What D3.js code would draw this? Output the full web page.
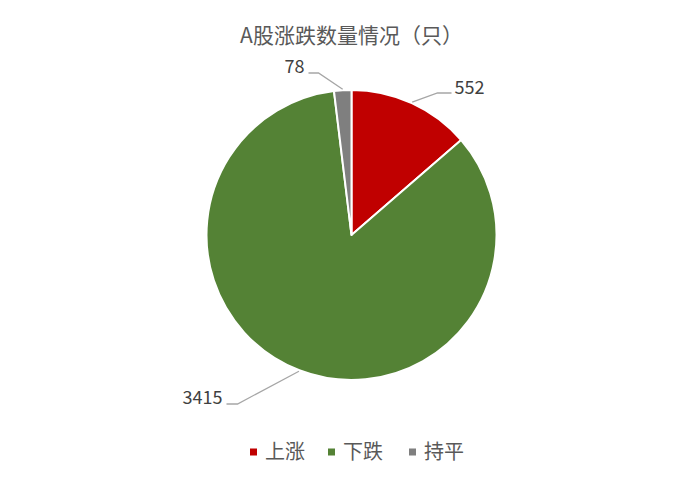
<!DOCTYPE html>
<html>
<head>
<meta charset="utf-8">
<script src="https://cdn.jsdelivr.net/npm/d3@7"></script>
<style>
  body { margin: 0; background: #fff; }
  text { font-family: "Noto Sans CJK SC", "Noto Sans", sans-serif; }
</style>
</head>
<body>
<svg id="chart"></svg>
<script>
// data
const categories = ['上涨', '下跌', '持平'];
const values = [552, 3415, 78];
const colors = ['#C00000', '#548235', '#7F7F7F'];

// label layout: elbow / end of leader line and text anchor (relative to pie centre)
const labelLayout = [
  { elbow: [86, -142], end: [100, -142], text: [103, -147], anchor: 'start' },
  { elbow: [-114, 169], end: [-125, 169], text: [-129, 163], anchor: 'end' },
  { elbow: [-33, -162], end: [-43, -162], text: [-47, -168], anchor: 'end' }
];

const width = 693, height = 477;
const cx = 351.5, cy = 235, radius = 145;

const svg = d3.select('#chart')
  .attr('width', width)
  .attr('height', height);

svg.append('text')
  .attr('x', cx)
  .attr('y', 43)
  .attr('text-anchor', 'middle')
  .attr('font-size', 21)
  .attr('fill', '#595959')
  .text('A股涨跌数量情况（只）');

const g = svg.append('g')
  .attr('transform', `translate(${cx}, ${cy})`);

const pie = d3.pie().value(d => d).sort(null);
const arcs = pie(values);

const arc = d3.arc().innerRadius(0).outerRadius(radius);

g.selectAll('.slice')
  .data(arcs)
  .enter()
  .append('path')
  .attr('class', 'slice')
  .attr('d', arc)
  .attr('fill', (d, i) => colors[i])
  .attr('stroke', '#fff')
  .attr('stroke-width', 2)
  .attr('stroke-linejoin', 'round');

// leader lines
g.selectAll('.leader')
  .data(arcs)
  .enter()
  .append('polyline')
  .attr('class', 'leader')
  .attr('fill', 'none')
  .attr('stroke', '#A6A6A6')
  .attr('stroke-width', 1.3)
  .attr('points', (d, i) => {
    const a = (d.startAngle + d.endAngle) / 2;
    const p0 = [Math.sin(a) * (radius + 1), -Math.cos(a) * (radius + 1)];
    const l = labelLayout[i];
    return [p0, l.elbow, l.end].map(p => p.join(',')).join(' ');
  });

g.selectAll('.label')
  .data(arcs)
  .enter()
  .append('text')
  .attr('class', 'label')
  .attr('x', (d, i) => labelLayout[i].text[0])
  .attr('y', (d, i) => labelLayout[i].text[1])
  .attr('dy', '0.35em')
  .attr('text-anchor', (d, i) => labelLayout[i].anchor)
  .attr('font-size', 18)
  .attr('fill', '#404040')
  .text(d => d.data);

// legend
const legendX = [250, 328, 409];
const legend = svg.selectAll('.legend')
  .data(categories)
  .enter()
  .append('g')
  .attr('class', 'legend')
  .attr('transform', (d, i) => `translate(${legendX[i]}, 452)`);

legend.append('rect')
  .attr('x', 0)
  .attr('y', -3.5)
  .attr('width', 7)
  .attr('height', 7)
  .attr('fill', (d, i) => colors[i]);

legend.append('text')
  .attr('x', 15)
  .attr('y', 0)
  .attr('dy', '0.36em')
  .attr('font-size', 20)
  .attr('fill', '#595959')
  .text(d => d);
</script>
</body>
</html>
